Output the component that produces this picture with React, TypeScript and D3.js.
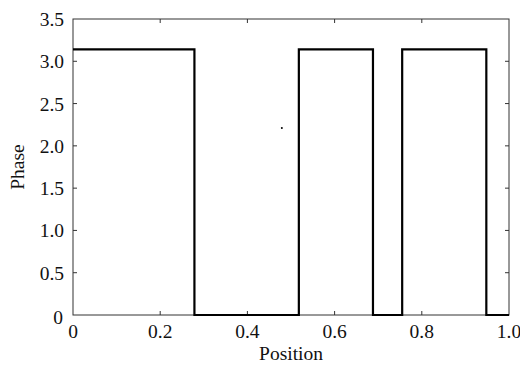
import * as d3 from 'd3';
import { useEffect, useRef } from 'react';

// step edges (position where phase switches)
const EDGES = [0, 0.2785, 0.518, 0.688, 0.755, 0.948, 1.0];
const PHASES = [3.14, 0, 3.14, 0, 3.14, 0, 0];
const STRAY = [{ x: 0.479, y: 2.21 }];
const X_TICKS = [0, 0.2, 0.4, 0.6, 0.8, 1.0];
const Y_TICKS = [0, 0.5, 1.0, 1.5, 2.0, 2.5, 3.0, 3.5];

export default function App() {
    const svgRef = useRef<SVGSVGElement | null>(null);

    useEffect(() => {
        if (!svgRef.current) {
            return;
        }
        const svg = d3.select(svgRef.current);
        svg.selectAll('*').remove();

        const W = 520;
        const H = 365;
        const margin = { top: 19, right: 11, bottom: 50, left: 73 };
        const innerW = W - margin.left - margin.right;
        const innerH = H - margin.top - margin.bottom;
        const font = 'Liberation Serif, Times New Roman, serif';
        const fs = 19.5;

        const x = d3.scaleLinear().domain([0, 1]).range([0, innerW]);
        const y = d3.scaleLinear().domain([0, 3.5]).range([innerH, 0]);

        svg.attr('width', W).attr('height', H);
        svg.append('rect').attr('width', W).attr('height', H).attr('fill', '#fff');

        const g = svg.append('g').attr('transform', `translate(${margin.left},${margin.top})`);

        // frame
        g.append('rect')
            .attr('width', innerW)
            .attr('height', innerH)
            .attr('fill', 'none')
            .attr('stroke', '#333')
            .attr('stroke-width', 1);

        const tickLen = 4;
        for (const t of X_TICKS.filter((t) => t > 0 && t < 1)) {
            g.append('line').attr('x1', x(t)).attr('x2', x(t)).attr('y1', innerH).attr('y2', innerH - tickLen).attr('stroke', '#333');
            g.append('line').attr('x1', x(t)).attr('x2', x(t)).attr('y1', 0).attr('y2', tickLen).attr('stroke', '#333');
        }
        for (const t of Y_TICKS.filter((t) => t > 0 && t < 3.5)) {
            g.append('line').attr('x1', 0).attr('x2', tickLen).attr('y1', y(t)).attr('y2', y(t)).attr('stroke', '#333');
            g.append('line').attr('x1', innerW).attr('x2', innerW - tickLen).attr('y1', y(t)).attr('y2', y(t)).attr('stroke', '#333');
        }

        // tick labels
        g.selectAll('text.xl')
            .data(X_TICKS)
            .enter()
            .append('text')
            .attr('x', (d) => x(d))
            .attr('y', innerH + 23)
            .attr('text-anchor', 'middle')
            .attr('font-family', font)
            .attr('font-size', fs)
            .attr('fill', '#111')
            .text((d) => (d === 0 ? '0' : d.toFixed(1)));

        g.selectAll('text.yl')
            .data(Y_TICKS)
            .enter()
            .append('text')
            .attr('x', (d) => (d === 0 ? -10 : -9))
            .attr('y', (d) => y(d) + (d === 0 ? 9 : 7))
            .attr('text-anchor', 'end')
            .attr('font-family', font)
            .attr('font-size', fs)
            .attr('fill', '#111')
            .text((d) => (d === 0 ? '0' : d.toFixed(1)));

        // signal
        const pts = EDGES.map((e, i) => [e, PHASES[i]] as [number, number]);
        const line = d3
            .line<[number, number]>()
            .x((d) => x(d[0]))
            .y((d) => y(d[1]))
            .curve(d3.curveStepAfter);
        g.append('path')
            .attr('d', line(pts))
            .attr('fill', 'none')
            .attr('stroke', '#000')
            .attr('stroke-width', 2.2);

        g.selectAll('circle.stray')
            .data(STRAY)
            .enter()
            .append('circle')
            .attr('cx', (d) => x(d.x))
            .attr('cy', (d) => y(d.y))
            .attr('r', 1)
            .attr('fill', '#000');

        // axis titles
        svg.append('text')
            .attr('x', margin.left + innerW / 2)
            .attr('y', H - 5)
            .attr('text-anchor', 'middle')
            .attr('font-family', font)
            .attr('font-size', fs)
            .attr('fill', '#111')
            .text('Position');

        svg.append('text')
            .attr('transform', `translate(24,${margin.top + innerH / 2}) rotate(-90)`)
            .attr('text-anchor', 'middle')
            .attr('font-family', font)
            .attr('font-size', fs)
            .attr('fill', '#111')
            .text('Phase');
    }, []);

    return <svg ref={svgRef} style={{ position: 'absolute', left: 0, top: 0, display: 'block' }} />;
}
